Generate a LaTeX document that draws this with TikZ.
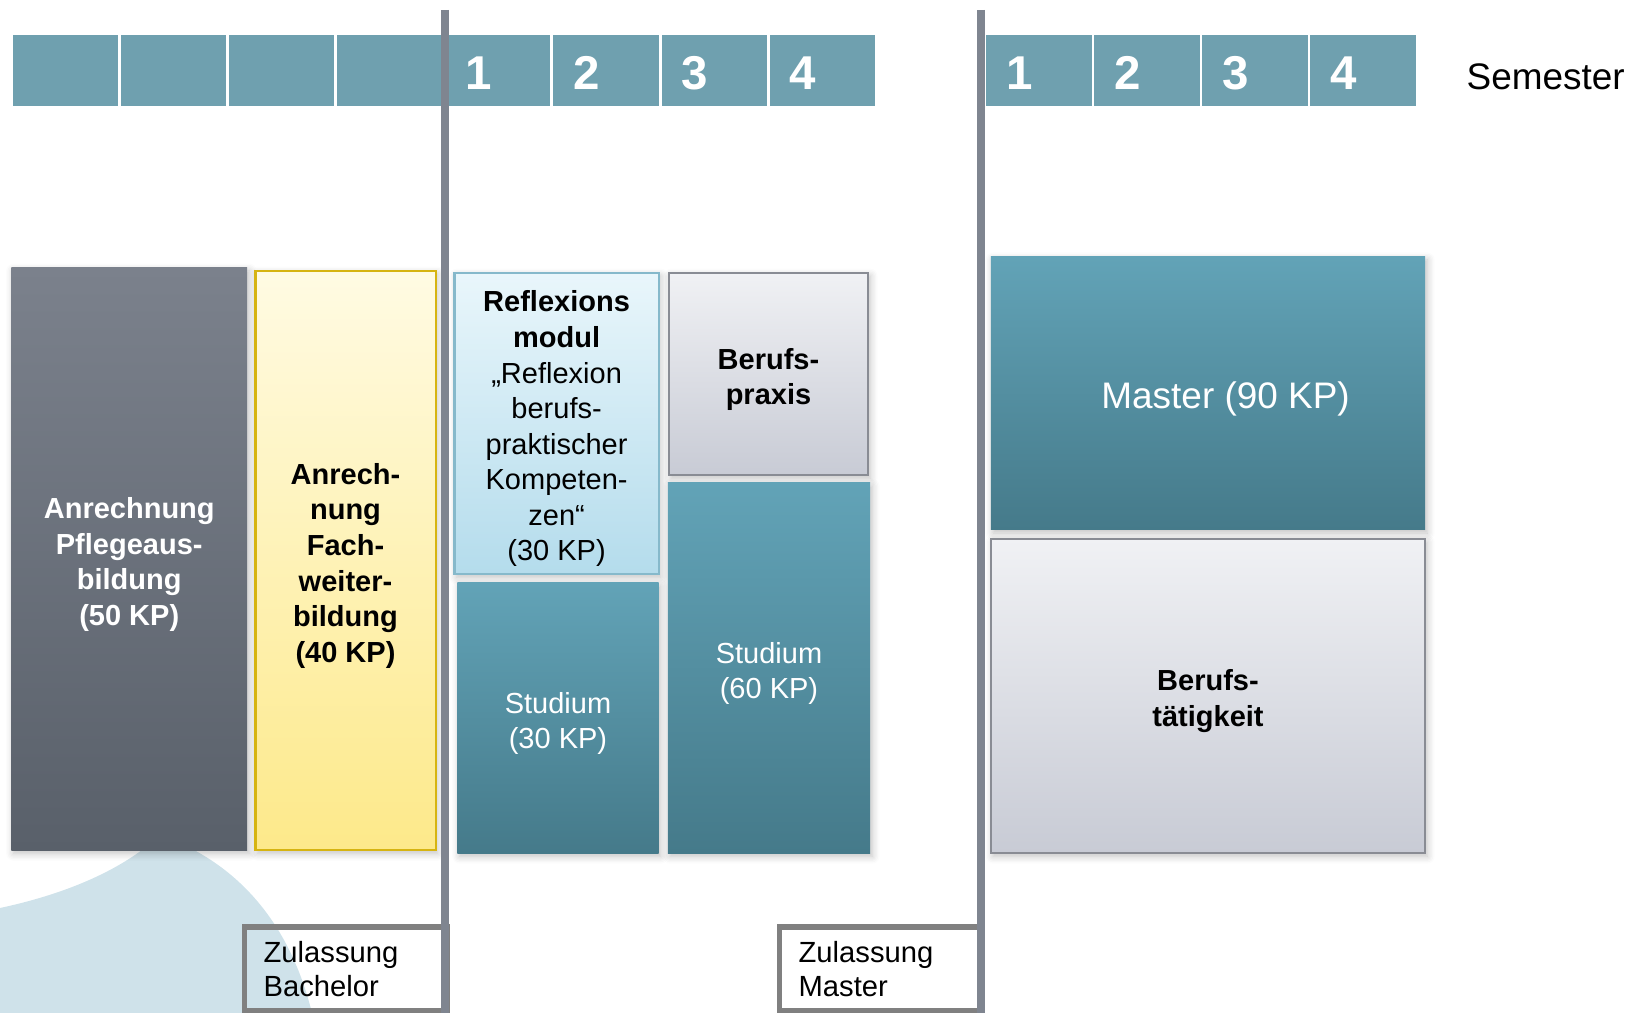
\documentclass[tikz,border=0pt]{standalone}
\usepackage{fontspec}
\setmainfont{Liberation Sans}
\usetikzlibrary{positioning,shadows.blur}

\definecolor{semblue}{HTML}{6FA0AF}
\definecolor{tealtop}{HTML}{62A3B7}
\definecolor{tealbot}{HTML}{457A8A}
\definecolor{slatetop}{HTML}{7B818C}
\definecolor{slatebot}{HTML}{59606A}
\definecolor{yeltop}{HTML}{FFFBE3}
\definecolor{yelbot}{HTML}{FDE98A}
\definecolor{yelline}{HTML}{D6B411}
\definecolor{icetop}{HTML}{E9F6FB}
\definecolor{icebot}{HTML}{B4DCEC}
\definecolor{iceline}{HTML}{86B9CB}
\definecolor{greytop}{HTML}{F0F1F4}
\definecolor{greybot}{HTML}{C8CBD5}
\definecolor{greyline}{HTML}{898C94}
\definecolor{barline}{HTML}{7F8590}
\definecolor{gateline}{HTML}{808080}
\definecolor{blobblue}{HTML}{CFE2EA}

\newcommand{\boxfont}{\fontsize{8.25}{10.1}\selectfont}
\newcommand{\bigfont}{\fontsize{10.5}{12.5}\selectfont}

\tikzset{
    block/.style={rectangle, inner sep=0pt,
        blur shadow={shadow xshift=0.6pt, shadow yshift=-0.9pt, shadow opacity=25, shadow blur steps=6}},
    slatebox/.style={block, top color=slatetop, bottom color=slatebot},
    yelbox/.style={block, draw=yelline, line width=0.6pt, top color=yeltop, bottom color=yelbot},
    icebox/.style={block, draw=iceline, line width=0.6pt, top color=icetop, bottom color=icebot},
    greybox/.style={block, draw=greyline, line width=0.6pt, top color=greytop, bottom color=greybot},
    tealbox/.style={block, top color=tealtop, bottom color=tealbot},
    boxtext/.style={inner sep=0pt, align=center, font=\boxfont, yshift=-1.5pt},
    sembox/.style={rectangle, fill=semblue, inner sep=0pt, minimum width=1.05cm, minimum height=0.712cm},
    semnum/.style={inner sep=0pt, anchor=west, yshift=-0.9pt, text=white, font=\fontsize{13.5}{16}\selectfont\bfseries},
    gate/.style={rectangle, draw=gateline, line width=1.5pt, anchor=north west, align=left,
        inner xsep=0.19cm, inner ysep=0pt, text width=1.65cm, minimum height=0.835cm,
        font=\fontsize{8.3}{9.8}\selectfont},
    divider/.style={draw=barline, line width=2pt}
}

\begin{document}
\begin{tikzpicture}[x=0.01cm, y=-0.01cm]
    \useasboundingbox (0,0) rectangle (1642,1013);

    % background shape
    \fill[blobblue] (0,1013) -- (0,908) .. controls (70,893) and (125,868) .. (160,835)
        .. controls (245,865) and (292,932) .. (312,1013) -- cycle;

    % semesters
    \foreach \i in {0,...,7}
        \node[sembox] (bs\i) at ({65.5+108.1*\i},70.2) {};
    \foreach \i/\n in {4/1,5/2,6/3,7/4}
        \node[semnum, right=0.2cm of bs\i.west] (nb\n) {\n};
    \foreach \i in {0,...,3}
        \node[sembox] (bm\i) at ({1039+108*\i},70.2) {};
    \foreach \i/\n in {0/1,1/2,2/3,3/4}
        \node[semnum, right=0.2cm of bm\i.west] (nm\n) {\n};
    \node[inner sep=0pt, anchor=west, font=\bigfont] (semlabel) at (1466,77) {Semester};

    % bachelor
    \node[slatebox, minimum width=2.355cm, minimum height=5.82cm] (pflege) at (129.25,559) {};
    \node[boxtext, text=white, font=\boxfont\bfseries] (pflegetxt) at (pflege.center)
        {Anrechnung\\Pflegeaus-\\bildung\\(50 KP)};
    \node[yelbox, minimum width=1.80cm, minimum height=5.79cm] (fachwb) at (345.5,560.5) {};
    \node[boxtext, font=\boxfont\bfseries] (fachwbtxt) at (fachwb.center)
        {Anrech-\\nung\\Fach-\\weiter-\\bildung\\(40 KP)};
    \node[icebox, minimum width=2.04cm, minimum height=3.01cm] (reflex) at (556.6,423.5) {};
    \node[boxtext] (reflextxt) at (reflex.center)
        {\textbf{Reflexions}\\\textbf{modul}\\„Reflexion\\berufs-\\praktischer\\Kompeten-\\zen“\\(30 KP)};
    \node[greybox, minimum width=1.99cm, minimum height=2.02cm] (praxis) at (768.5,374) {};
    \node[boxtext, font=\boxfont\bfseries] (praxistxt) at (praxis.center) {Berufs-\\praxis};
    \node[tealbox, minimum width=2.01cm, minimum height=2.70cm] (stud30) at (558,718) {};
    \node[boxtext, text=white] (stud30txt) at (stud30.center) {Studium\\(30 KP)};
    \node[tealbox, minimum width=2.02cm, minimum height=3.70cm] (stud60) at (769,668) {};
    \node[boxtext, text=white] (stud60txt) at (stud60.center) {Studium\\(60 KP)};

    % master
    \node[tealbox, minimum width=4.34cm, minimum height=2.73cm] (master) at (1208,393.3) {};
    \node[boxtext, text=white, font=\bigfont, xshift=5pt] (mastertxt) at (master.center) {Master (90 KP)};
    \node[greybox, minimum width=4.34cm, minimum height=3.14cm] (taetig) at (1208,696) {};
    \node[boxtext, font=\boxfont\bfseries] (taetigtxt) at (taetig.center) {Berufs-\\tätigkeit};

    % admission
    \node[gate] (zulbach) at (242,924.5) {Zulassung\\Bachelor};
    \node[gate] (zulmast) at (777,924.5) {Zulassung\\Master};

    \coordinate (bachtop) at (445,10);
    \coordinate (bachbot) at (445,1013);
    \coordinate (masttop) at (981,10);
    \coordinate (mastbot) at (981,1013);
    \draw[divider] (bachtop) -- (bachbot);
    \draw[divider] (masttop) -- (mastbot);
\end{tikzpicture}
\end{document}
